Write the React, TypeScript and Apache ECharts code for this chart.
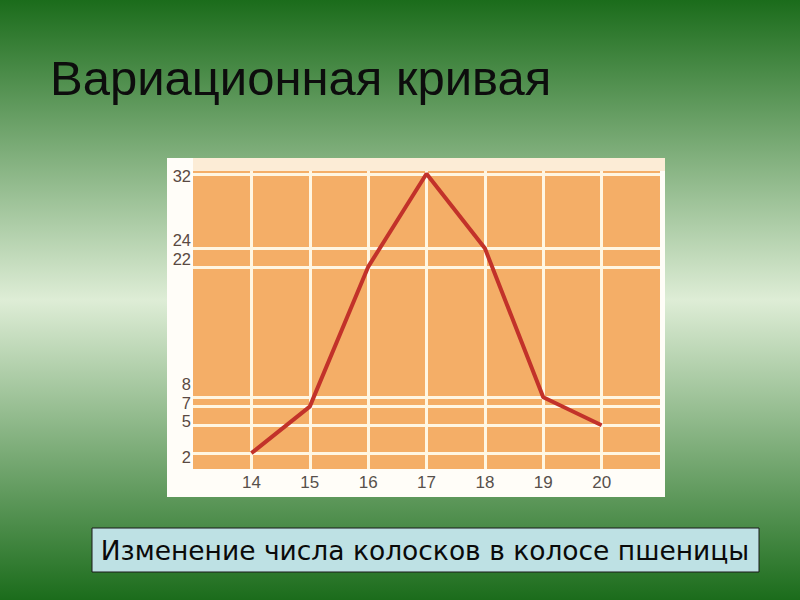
import React, { useEffect, useRef } from "react";
import * as echarts from "echarts";

const spikeletCounts: number[] = [14, 15, 16, 17, 18, 19, 20];
const earFrequency: number[] = [2, 7, 22, 32, 24, 8, 5];
const yTickValues: number[] = [2, 5, 7, 8, 22, 24, 32];
const xTickValues: number[] = [14, 15, 16, 17, 18, 19, 20];
const titleText = "Вариационная кривая";
const captionText = "Изменение числа колосков в колосе пшеницы";

// Styling: small vertical nudges (px) of the y tick labels, as on the hand-drawn original
const yLabelNudge: Record<number, number> = { 32: 2, 24: -8, 22: -8, 8: -13, 7: -4, 5: -4, 2: 4 };

export default function App() {
  const ref = useRef<HTMLDivElement | null>(null);

  useEffect(() => {
    if (!ref.current) return;
    const chart = echarts.init(ref.current, null, { renderer: "svg" });
    const seriesData = spikeletCounts.map((x, i) => [x, earFrequency[i]]);

    const labelFont = "'Liberation Sans', Arial, sans-serif";
    const rich: Record<string, any> = {};
    yTickValues.forEach((v) => {
      const s = yLabelNudge[v] || 0;
      rich["n" + v] = {
        color: "#5a4942",
        fontSize: 16.5,
        lineHeight: 16,
        fontFamily: labelFont,
        padding: s < 0 ? [0, 0, -2 * s, 0] : [2 * s, 0, 0, 0],
      };
    });

    chart.setOption({
      animation: false,
      backgroundColor: {
        type: "linear",
        x: 0,
        y: 0,
        x2: 0,
        y2: 1,
        colorStops: [
          { offset: 0, color: "#1b6c1b" },
          { offset: 0.5, color: "#deedd6" },
          { offset: 1, color: "#1b6c1b" },
        ],
      },
      graphic: [
        {
          type: "text",
          left: 50,
          top: 53,
          z: 10,
          style: {
            text: titleText,
            fill: "#0d0d0d",
            font: "49px 'Liberation Sans', Arial, sans-serif",
          },
        },
        {
          type: "rect",
          z: -10,
          shape: { x: 167, y: 158, width: 498, height: 339 },
          style: { fill: "#fffdf8" },
        },
        {
          type: "rect",
          z: -9,
          shape: { x: 193, y: 158, width: 472, height: 13 },
          style: { fill: "#fcecd6" },
        },
        {
          type: "rect",
          z: 10,
          shape: { x: 92, y: 528, width: 667, height: 44 },
          style: { fill: "#bee1e4", stroke: "#1a1a1a", lineWidth: 1 },
        },
        {
          type: "text",
          z: 11,
          x: 425,
          y: 550,
          style: {
            text: captionText,
            fill: "#0a0a0a",
            font: "26.5px 'DejaVu Sans', sans-serif",
            align: "center",
            verticalAlign: "middle",
          },
        },
      ],
      grid: {
        left: 193,
        right: 140,
        top: 171,
        bottom: 131,
        show: true,
        backgroundColor: "#f4ae67",
        borderWidth: 0,
      },
      xAxis: {
        type: "value",
        min: 13,
        max: 21,
        interval: 1,
        axisLine: { show: false },
        axisTick: { show: false, customValues: xTickValues },
        axisLabel: {
          customValues: xTickValues,
          color: "#57504b",
          fontSize: 17,
          fontFamily: labelFont,
          margin: 5,
        },
        splitLine: { show: true, lineStyle: { color: "#fff6e2", width: 3 } },
      },
      yAxis: {
        type: "value",
        min: 0.3,
        max: 32.3,
        axisLine: { show: false },
        axisTick: { show: false, customValues: yTickValues },
        axisLabel: {
          customValues: yTickValues,
          margin: 2,
          formatter: (v: number) => `{n${v}|${v}}`,
          rich,
        },
        splitLine: { show: true, lineStyle: { color: "#fff6e2", width: 3 } },
      },
      series: [
        {
          type: "line",
          data: seriesData,
          showSymbol: false,
          smooth: false,
          lineStyle: { color: "#c2322a", width: 4 },
          itemStyle: { color: "#c2322a" },
        },
      ],
    });

    return () => {
      chart.dispose();
    };
  }, []);

  return (
    <div
      ref={ref}
      style={{ position: "fixed", left: 0, top: 0, width: 800, height: 600 }}
    />
  );
}
